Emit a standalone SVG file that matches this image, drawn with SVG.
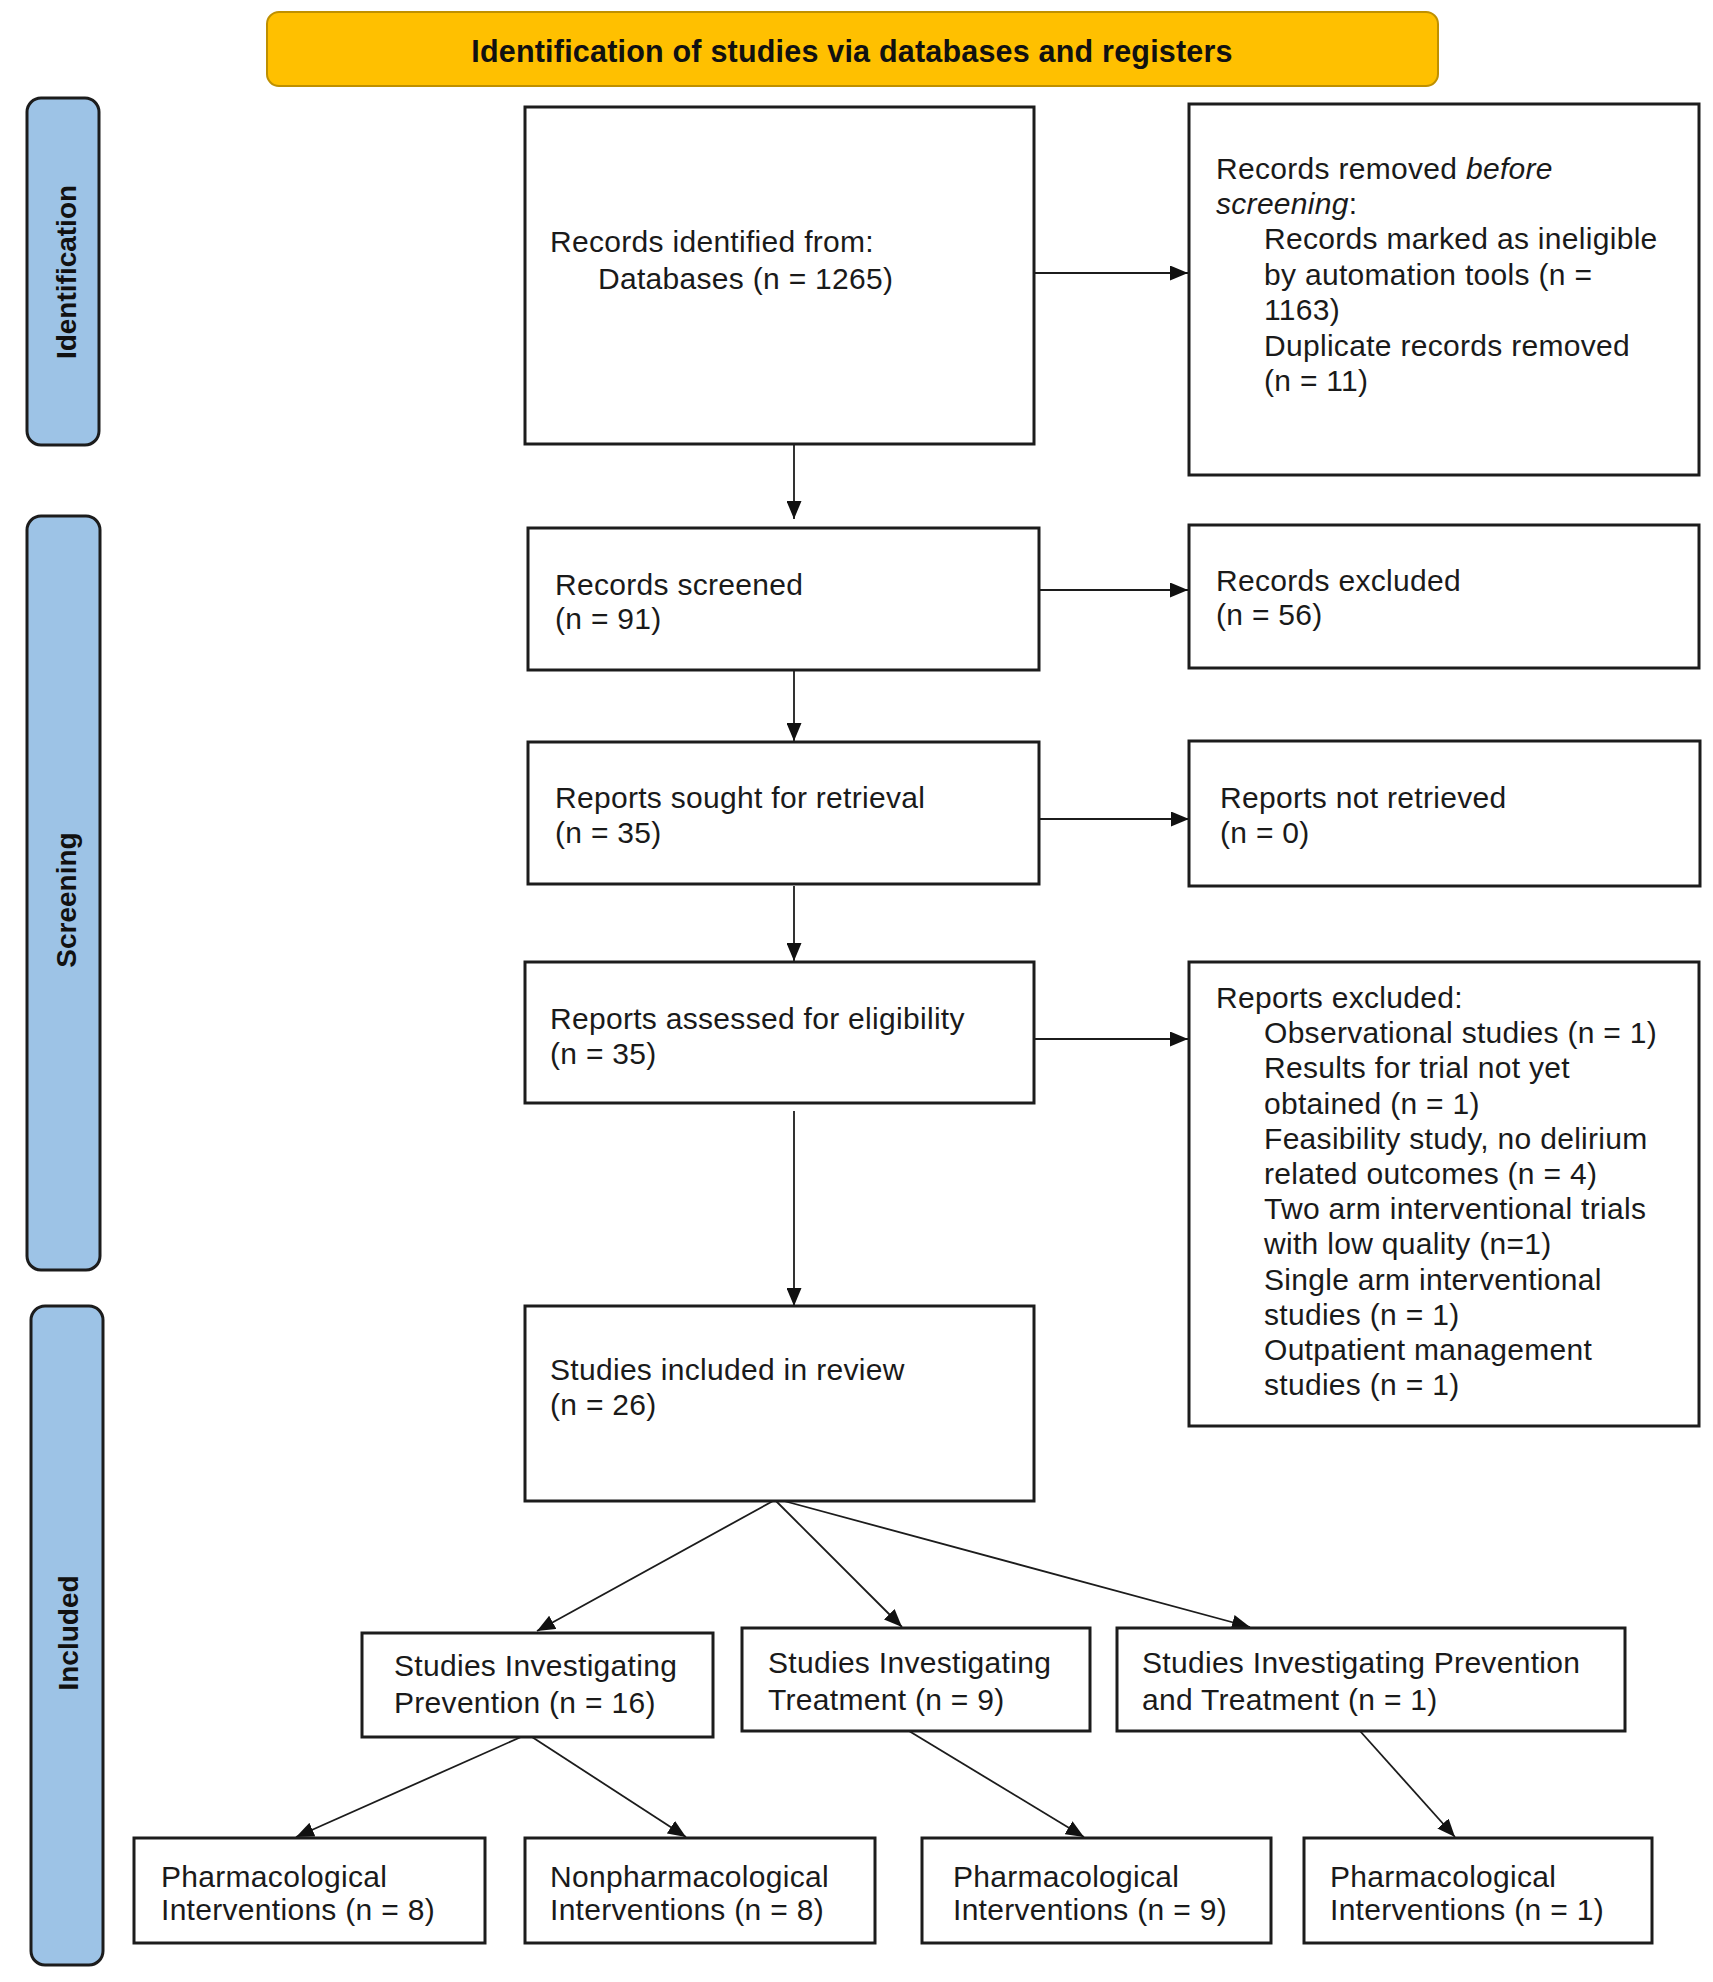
<svg xmlns="http://www.w3.org/2000/svg" width="1713" height="1982" viewBox="0 0 1713 1982">
<defs>
<style>
.box{fill:#fff;stroke:#1c1c1c;stroke-width:3}
.pill{fill:#9dc3e6;stroke:#1c1c1c;stroke-width:3}
.t{font-family:"Liberation Sans",Arial,sans-serif;font-size:30px;letter-spacing:0.3px;fill:#1a1a1a}
.pt{font-family:"Liberation Sans",Arial,sans-serif;font-size:28px;font-weight:bold;fill:#111;text-anchor:middle}
.bt{font-family:"Liberation Sans",Arial,sans-serif;font-size:30.5px;letter-spacing:0.2px;font-weight:bold;fill:#111;text-anchor:middle}
.c{stroke:#1c1c1c;stroke-width:1.8;fill:none;marker-end:url(#ah)}
</style>
<marker id="ah" markerUnits="userSpaceOnUse" markerWidth="18" markerHeight="15" refX="18" refY="7.5" orient="auto">
<path d="M0,0 L18,7.5 L0,15 z" fill="#111"/>
</marker>
</defs>
<rect width="1713" height="1982" fill="#fff"/>

<g id="banner">
<rect x="267" y="12" width="1171" height="74" rx="12" fill="#ffc000" stroke="#bf9000" stroke-width="2"/>
<text class="bt" x="852" y="62">Identification of studies via databases and registers</text>
</g>

<g id="phase-identification">
<rect class="pill" x="27" y="98" width="72" height="347" rx="14"/>
<text class="pt" transform="translate(76,272) rotate(-90)">Identification</text>
</g>
<g id="phase-screening">
<rect class="pill" x="27" y="516" width="73" height="754" rx="14"/>
<text class="pt" transform="translate(76,900) rotate(-90)">Screening</text>
</g>
<g id="phase-included">
<rect class="pill" x="31" y="1306" width="72" height="659" rx="14"/>
<text class="pt" transform="translate(78,1633) rotate(-90)">Included</text>
</g>

<g id="connectors">
<line class="c" x1="1034" y1="273" x2="1188" y2="273"/>
<line class="c" x1="794" y1="444" x2="794" y2="519"/>
<line class="c" x1="1039" y1="590" x2="1188" y2="590"/>
<line class="c" x1="794" y1="670" x2="794" y2="741"/>
<line class="c" x1="1039" y1="819" x2="1189" y2="819"/>
<line class="c" x1="794" y1="886" x2="794" y2="961"/>
<line class="c" x1="1034" y1="1039" x2="1188" y2="1039"/>
<line class="c" x1="794" y1="1111" x2="794" y2="1306"/>
<line class="c" x1="773" y1="1501" x2="537" y2="1631"/>
<line class="c" x1="776" y1="1501" x2="902" y2="1627"/>
<line class="c" x1="784" y1="1501" x2="1250" y2="1627"/>
<line class="c" x1="521" y1="1737" x2="296" y2="1837"/>
<line class="c" x1="532" y1="1737" x2="686" y2="1837"/>
<line class="c" x1="909" y1="1731" x2="1084" y2="1837"/>
<line class="c" x1="1360" y1="1731" x2="1455" y2="1837"/>
</g>

<g id="records-identified">
<rect class="box" x="525" y="107" width="509" height="337"/>
<text class="t" x="550" y="252">Records identified from:</text>
<text class="t" x="598" y="289">Databases (n = 1265)</text>
</g>

<g id="records-removed">
<rect class="box" x="1189" y="104" width="510" height="371"/>
<text class="t" x="1216" y="179">Records removed <tspan font-style="italic">before</tspan></text>
<text class="t" x="1216" y="214"><tspan font-style="italic">screening</tspan>:</text>
<text class="t" x="1264" y="249">Records marked as ineligible</text>
<text class="t" x="1264" y="285">by automation tools (n =</text>
<text class="t" x="1264" y="320">1163)</text>
<text class="t" x="1264" y="356">Duplicate records removed</text>
<text class="t" x="1264" y="391">(n = 11)</text>
</g>

<g id="records-screened">
<rect class="box" x="528" y="528" width="511" height="142"/>
<text class="t" x="555" y="595">Records screened</text>
<text class="t" x="555" y="629">(n = 91)</text>
</g>

<g id="records-excluded">
<rect class="box" x="1189" y="525" width="510" height="143"/>
<text class="t" x="1216" y="591">Records excluded</text>
<text class="t" x="1216" y="625">(n = 56)</text>
</g>

<g id="reports-sought">
<rect class="box" x="528" y="742" width="511" height="142"/>
<text class="t" x="555" y="808">Reports sought for retrieval</text>
<text class="t" x="555" y="843">(n = 35)</text>
</g>

<g id="reports-not-retrieved">
<rect class="box" x="1189" y="741" width="511" height="145"/>
<text class="t" x="1220" y="808">Reports not retrieved</text>
<text class="t" x="1220" y="843">(n = 0)</text>
</g>

<g id="reports-assessed">
<rect class="box" x="525" y="962" width="509" height="141"/>
<text class="t" x="550" y="1029">Reports assessed for eligibility</text>
<text class="t" x="550" y="1064">(n = 35)</text>
</g>

<g id="reports-excluded">
<rect class="box" x="1189" y="962" width="510" height="464"/>
<text class="t" x="1216" y="1008">Reports excluded:</text>
<text class="t" x="1264" y="1043">Observational studies (n = 1)</text>
<text class="t" x="1264" y="1078">Results for trial not yet</text>
<text class="t" x="1264" y="1114">obtained (n = 1)</text>
<text class="t" x="1264" y="1149">Feasibility study, no delirium</text>
<text class="t" x="1264" y="1184">related outcomes (n = 4)</text>
<text class="t" x="1264" y="1219">Two arm interventional trials</text>
<text class="t" x="1264" y="1254">with low quality (n=1)</text>
<text class="t" x="1264" y="1290">Single arm interventional</text>
<text class="t" x="1264" y="1325">studies (n = 1)</text>
<text class="t" x="1264" y="1360">Outpatient management</text>
<text class="t" x="1264" y="1395">studies (n = 1)</text>
</g>

<g id="studies-included">
<rect class="box" x="525" y="1306" width="509" height="195"/>
<text class="t" x="550" y="1380">Studies included in review</text>
<text class="t" x="550" y="1415">(n = 26)</text>
</g>

<g id="prevention">
<rect class="box" x="362" y="1633" width="351" height="104"/>
<text class="t" x="394" y="1676">Studies Investigating</text>
<text class="t" x="394" y="1713">Prevention (n = 16)</text>
</g>

<g id="treatment">
<rect class="box" x="742" y="1628" width="348" height="103"/>
<text class="t" x="768" y="1673">Studies Investigating</text>
<text class="t" x="768" y="1710">Treatment (n = 9)</text>
</g>

<g id="prevention-treatment">
<rect class="box" x="1117" y="1628" width="508" height="103"/>
<text class="t" x="1142" y="1673">Studies Investigating Prevention</text>
<text class="t" x="1142" y="1710">and Treatment (n = 1)</text>
</g>

<g id="prev-pharm">
<rect class="box" x="134" y="1838" width="351" height="105"/>
<text class="t" x="161" y="1887">Pharmacological</text>
<text class="t" x="161" y="1920">Interventions (n = 8)</text>
</g>

<g id="prev-nonpharm">
<rect class="box" x="525" y="1838" width="350" height="105"/>
<text class="t" x="550" y="1887">Nonpharmacological</text>
<text class="t" x="550" y="1920">Interventions (n = 8)</text>
</g>

<g id="treat-pharm">
<rect class="box" x="922" y="1838" width="349" height="105"/>
<text class="t" x="953" y="1887">Pharmacological</text>
<text class="t" x="953" y="1920">Interventions (n = 9)</text>
</g>

<g id="prevtreat-pharm">
<rect class="box" x="1304" y="1838" width="348" height="105"/>
<text class="t" x="1330" y="1887">Pharmacological</text>
<text class="t" x="1330" y="1920">Interventions (n = 1)</text>
</g>
</svg>
